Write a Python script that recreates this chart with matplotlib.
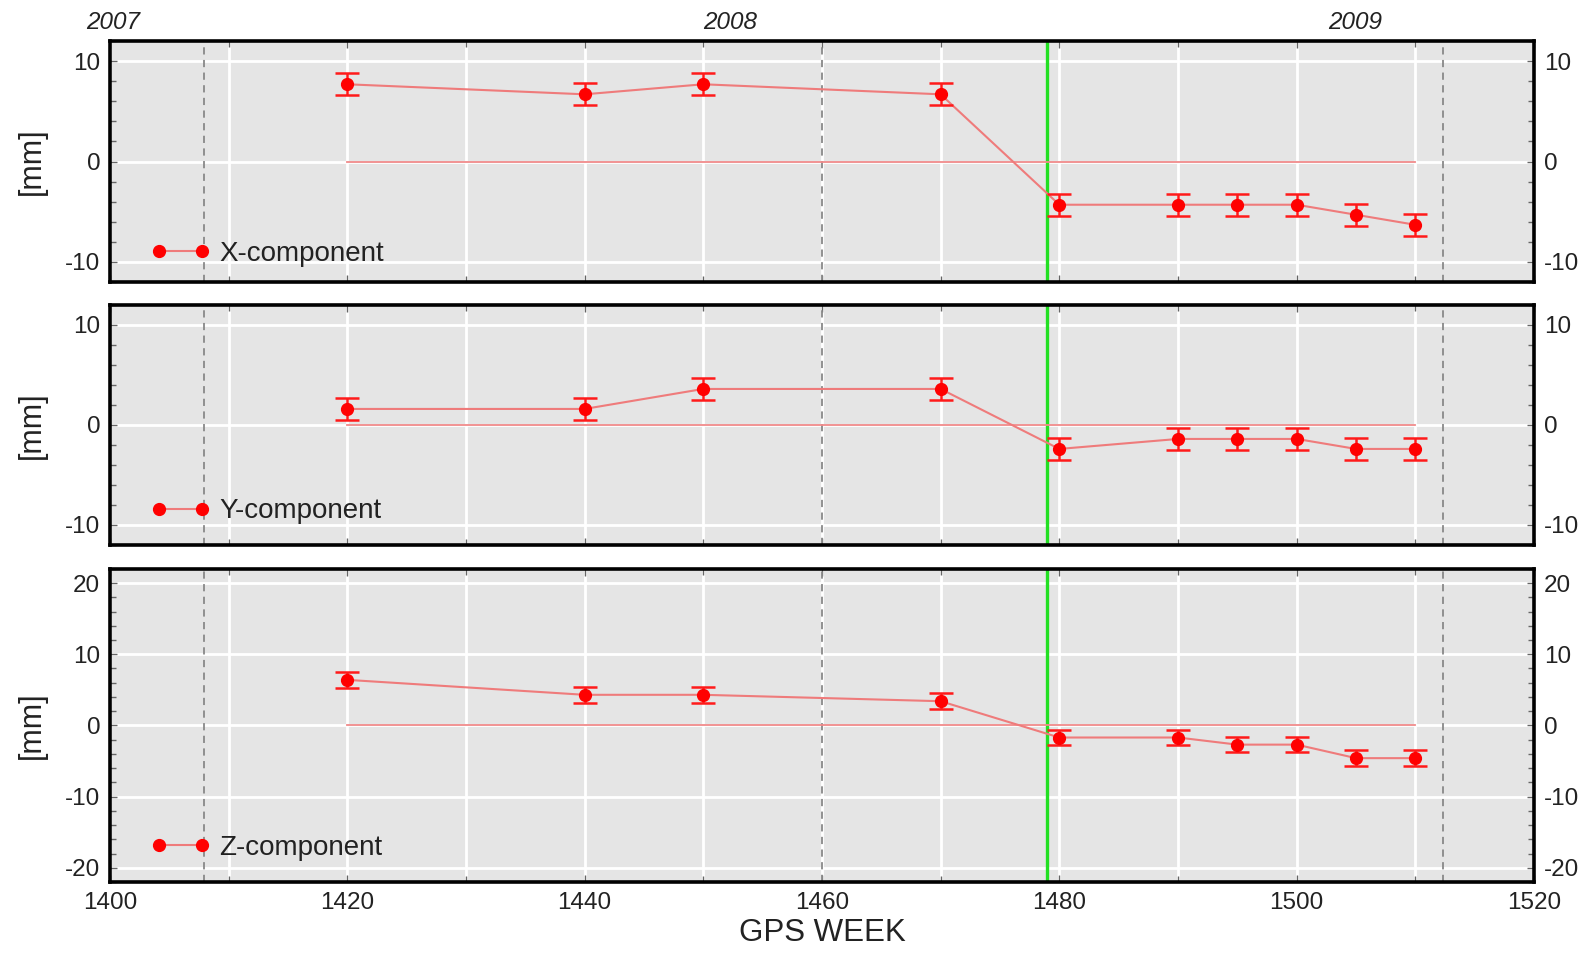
import matplotlib
matplotlib.use("Agg")
import matplotlib.pyplot as plt
from matplotlib.ticker import MultipleLocator

plt.rcParams['font.family'] = ['Liberation Sans', 'DejaVu Sans']

weeks = [1420, 1440, 1450, 1470, 1480, 1490, 1495, 1500, 1505, 1510]
x_comp = [7.7, 6.7, 7.7, 6.7, -4.3, -4.3, -4.3, -4.3, -5.3, -6.3]
y_comp = [1.6, 1.6, 3.6, 3.6, -2.4, -1.4, -1.4, -1.4, -2.4, -2.4]
z_comp = [6.4, 4.3, 4.3, 3.4, -1.7, -1.7, -2.7, -2.7, -4.6, -4.6]
errors = [1.1] * len(weeks)
labels = ['X-component', 'Y-component', 'Z-component']
ylims = [(-12, 12), (-12, 12), (-22, 22)]
year_labels = ['2007', '2008', '2009']
year_label_weeks = [1400.3, 1452.3, 1504.9]
year_boundaries = [1407.9, 1460.0, 1512.3]
event_week = 1479
xlim = (1400, 1520)

fig = plt.figure(figsize=(15.92, 9.56), dpi=100)
left, right = 0.069, 0.9636
boxes = [(0.705, 0.957), (0.430, 0.681), (0.0774, 0.405)]
legend_y = [0.116, 0.14, 0.108]
series = [x_comp, y_comp, z_comp]

text_col = '#222222'
for i, (vals, lab, yl, (b, t)) in enumerate(zip(series, labels, ylims, boxes)):
    ax = fig.add_axes([left, b, right - left, t - b])
    ax.set_facecolor('#e5e5e5')
    ax.set_xlim(*xlim)
    ax.set_ylim(*yl)
    ax.xaxis.set_major_locator(MultipleLocator(20))
    ax.xaxis.set_minor_locator(MultipleLocator(10))
    ax.yaxis.set_major_locator(MultipleLocator(10))
    ax.yaxis.set_minor_locator(MultipleLocator(2))
    ax.grid(True, which='major', color='white', lw=2, zorder=0)
    ax.grid(True, which='minor', axis='x', color='white', lw=2, zorder=0)
    ax.set_axisbelow(True)
    for s in ax.spines.values():
        s.set_linewidth(2.6)
        s.set_color('black')
    ax.tick_params(which='both', direction='in', top=True, right=True,
                   labelright=True, color='#666666', width=1)
    ax.tick_params(which='major', length=5, labelsize=17.5, pad=7,
                   labelcolor=text_col)
    ax.tick_params(which='minor', length=4)
    ax.yaxis.set_major_formatter(matplotlib.ticker.FuncFormatter(
        lambda v, p: f"{int(round(v))}"))
    if i < 2:
        ax.tick_params(labelbottom=False)

    for yb in year_boundaries:
        ax.axvline(yb, color='#888888', lw=1.3, ls=(0, (4, 3)), zorder=1)
    ax.axvline(event_week, color='#22e022', lw=2.4, zorder=2)

    ax.plot([weeks[0], weeks[-1]], [0, 0], color='#f08a8a', lw=1.3, zorder=3)
    ax.plot(weeks, vals, color='#ef7b7b', lw=1.5, zorder=3)
    ax.errorbar(weeks, vals, yerr=errors, fmt='none', ecolor='#ff1a1a',
                elinewidth=1.8, capsize=8.5, capthick=1.8, zorder=4)
    h, = ax.plot([], [], color='#ef7b7b', lw=1.5, marker='o', ms=8.5,
                 mfc='red', mec='red', label=lab)
    ax.plot(weeks, vals, ls='none', marker='o', ms=8.5, mfc='red', mec='red',
            zorder=5)
    leg = ax.legend(handles=[h], loc='center left',
                    bbox_to_anchor=(0.0286, legend_y[i]), frameon=False,
                    fontsize=20, numpoints=2, handlelength=2.15,
                    handletextpad=0.33, borderpad=0, borderaxespad=0)
    for tx in leg.get_texts():
        tx.set_color(text_col)

    ax.set_ylabel('[mm]', fontsize=22, color=text_col)
    ax.yaxis.set_label_coords(-0.044, 0.5)

    if i == 0:
        for yl_txt, wk in zip(year_labels, year_label_weeks):
            ax.text(wk, 1.0 + 19 / 241, yl_txt, transform=ax.get_xaxis_transform(),
                    ha='center', va='center', fontsize=17.5, style='italic',
                    color=text_col)
    if i == 2:
        ax.set_xlabel('GPS WEEK', fontsize=22.5, color=text_col, labelpad=3)

fig.savefig('out.png', dpi=100, facecolor='white')
